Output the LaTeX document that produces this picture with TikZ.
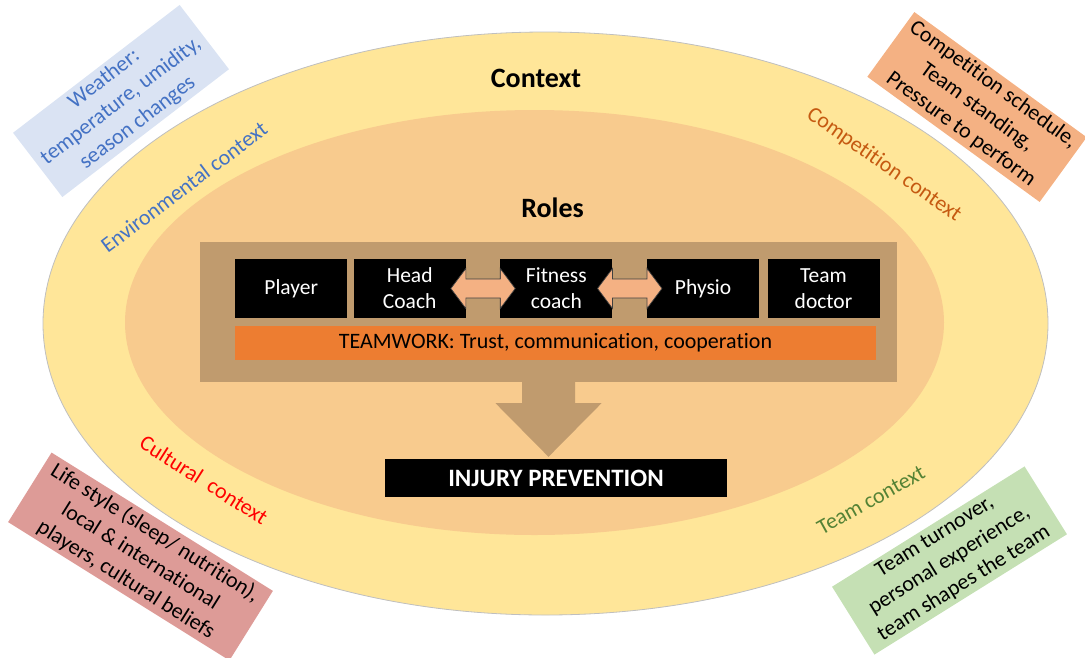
\documentclass[tikz,border=0pt]{standalone}
\usepackage{fontspec}
\setmainfont{Carlito}[Ligatures=NoCommon]
\usetikzlibrary{shapes.geometric,calc}
\definecolor{outery}{HTML}{FFE699}
\definecolor{innero}{HTML}{F8CB8E}
\definecolor{brownc}{HTML}{C09B6E}
\definecolor{teamworkc}{HTML}{ED7D31}
\definecolor{salmonc}{HTML}{F4B183}
\definecolor{weatherc}{HTML}{DAE3F3}
\definecolor{bluetxt}{HTML}{4472C4}
\definecolor{rosec}{HTML}{DD9B97}
\definecolor{greenc}{HTML}{C5E0B4}
\definecolor{comptxt}{HTML}{C55A11}
\definecolor{teamtxt}{HTML}{548235}
\tikzset{
  rolebox/.style={fill=black, text=white, minimum width=112pt, minimum height=59pt,
    align=center, inner sep=0pt, font=\fontsize{21.5}{26}\selectfont},
  cornerbox/.style={align=center, inner sep=0pt, font=\fontsize{22}{27.5}\selectfont},
  ctxlabel/.style={inner sep=0pt, font=\fontsize{22}{26}\selectfont},
  dblarrow/.style={fill=salmonc, draw=black!75, line width=0.7pt, line join=miter},
  title/.style={inner sep=0pt, font=\fontsize{28}{32}\selectfont\bfseries, anchor=base}
}
\begin{document}
\begin{tikzpicture}[x=1pt,y=-1pt]
\useasboundingbox (0,0) rectangle (1085,657);
% ellipses
\node[ellipse, fill=outery, draw=black!25, line width=0.8pt, minimum width=1005pt, minimum height=583pt, inner sep=0pt] (outer) at (545.5,323.5) {};
\node[ellipse, fill=innero, minimum width=819pt, minimum height=425pt, inner sep=0pt] (inner) at (534.5,322.5) {};
% titles
\node[title] (context) at (536,87) {Context};
\node[title] (roles) at (552.5,217) {Roles};
% roles panel
\node[fill=brownc, minimum width=697pt, minimum height=140pt, inner sep=0pt] (rolespanel) at (548.5,312) {};
\node[rolebox] (player) at (291.2,288.5) {Player};
\node[rolebox] (hc) at (409.7,288.5) {Head\\Coach};
\node[rolebox] (fc) at (556.4,288.5) {Fitness\\coach};
\node[rolebox] (physio) at (703.1,288.5) {Physio};
\node[rolebox] (doc) at (823.5,288.5) {Team\\doctor};
\node[fill=teamworkc, minimum width=641pt, minimum height=34pt, inner sep=0pt, font=\fontsize{22}{26}\selectfont] (teamwork) at (555.5,343) {TEAMWORK: Trust, communication, cooperation};
% double arrows
\coordinate (m1) at ($(hc.east)!0.5!(fc.west)$);
\coordinate (m2) at ($(fc.east)!0.5!(physio.west)$);
\foreach \m in {m1,m2}{
  \draw[dblarrow] ($(\m)+(-32.2,0)$) -- ++(15,-20) -- ++(0,10.5) -- ++(34.4,0) -- ++(0,-10.5)
    -- ++(15,20) -- ++(-15,20) -- ++(0,-10.5) -- ++(-34.4,0) -- ++(0,10.5) -- cycle;
}
% injury prevention
\node[fill=black, text=white, minimum width=342pt, minimum height=38pt, inner sep=0pt, font=\fontsize{25}{29}\selectfont\bfseries] (injury) at (556,478) {INJURY PREVENTION};
% down arrow
\coordinate (tail) at (rolespanel.south);
\fill[brownc] ($(tail)+(-26.5,-1)$) -- ++(0,22) -- ++(-26.5,0) -- ($(injury.north -| tail)+(0,-2)$)
  -- ($(tail)+(53,21)$) -- ++(-26.5,0) -- ++(0,-22) -- cycle;
% corner boxes
\node[cornerbox, fill=weatherc, text=bluetxt, minimum width=210pt, minimum height=81pt, rotate=37.5] (weather) at (121,101) {Weather:\\temperature, umidity,\\season changes};
\node[cornerbox, fill=salmonc, text=black, minimum width=213pt, minimum height=80pt, rotate=-36] (comp) at (977,107) {Competition schedule,\\Team standing,\\Pressure to perform};
\node[cornerbox, fill=rosec, text=black, minimum width=261pt, minimum height=82pt, rotate=-32] (life) at (140.5,556.5) {Life style (sleep/ nutrition),\\local \& international\\players, cultural beliefs};
\node[cornerbox, fill=greenc, text=black, minimum width=227pt, minimum height=80pt, rotate=32] (team) at (949.5,560.5) {Team turnover,\\personal experience,\\team shapes the team};
% context labels
\node[ctxlabel, text=bluetxt, rotate=37] (envlab) at (184,187) {Environmental context};
\node[ctxlabel, text=comptxt, rotate=-35] (complab) at (884,165) {Competition context};
\node[ctxlabel, text=red, rotate=-32.5] (cultlab) at (204,480) {Cultural\ \ context};
\node[ctxlabel, text=teamtxt, rotate=29] (teamlab) at (871,500) {Team context};
\end{tikzpicture}
\end{document}
